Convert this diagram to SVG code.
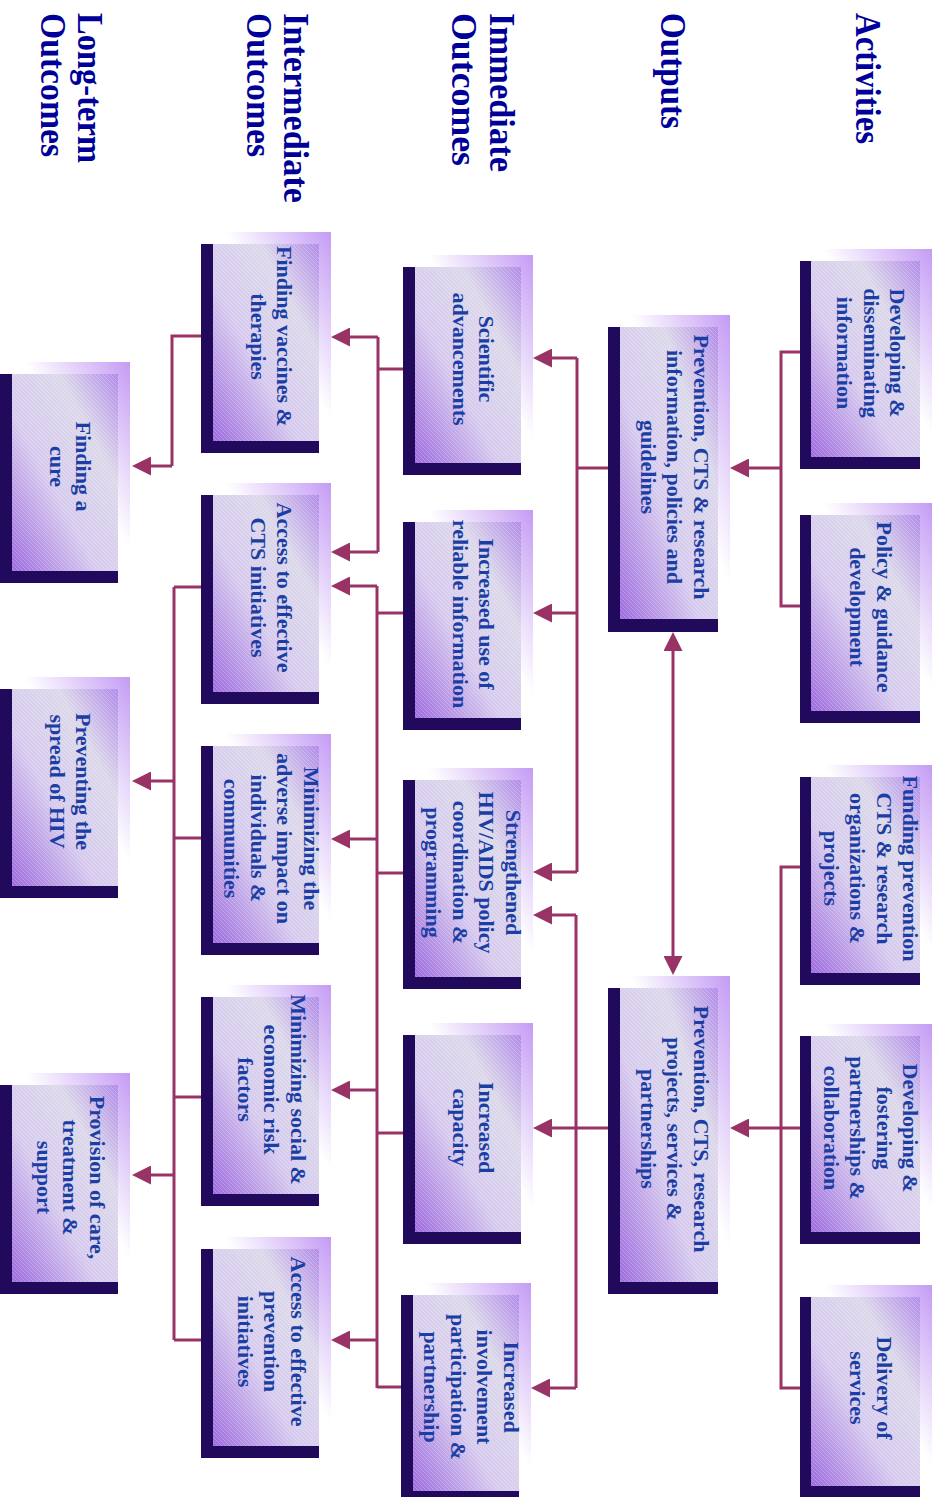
<svg xmlns="http://www.w3.org/2000/svg" width="937" height="1497" viewBox="0 0 937 1497">
<defs>
<style>
.glow{fill:url(#glowGrad)}
.navy{fill:#210a5c}
.main{fill:url(#mainGrad)}
.hatch{fill:url(#hatch)}
.t{font-family:"Liberation Serif","Times New Roman",serif;font-weight:bold;font-size:22px;fill:#1b3ea4;text-anchor:middle}
.h{font-family:"Liberation Serif","Times New Roman",serif;font-weight:bold;font-size:35px;fill:#000099}
.c{fill:none;stroke:#993366;stroke-width:3}
.a{fill:none;stroke:#993366;stroke-width:3;marker-end:url(#ah)}
.b{fill:none;stroke:#993366;stroke-width:3;marker-end:url(#ah);marker-start:url(#ah)}
</style>
<linearGradient id="mainGrad" x1="1" y1="0" x2="0" y2="1">
<stop offset="0" stop-color="#b18be8"/>
<stop offset="0.28" stop-color="#dcd8ea"/>
<stop offset="0.6" stop-color="#d6caee"/>
<stop offset="1" stop-color="#9d6ade"/>
</linearGradient>
<linearGradient id="glowGrad" x1="1" y1="0" x2="0" y2="1">
<stop offset="0" stop-color="#c49bf4"/>
<stop offset="0.45" stop-color="#ffffff"/>
</linearGradient>
<pattern id="hatch" width="4" height="4" patternUnits="userSpaceOnUse">
<path d="M0,0 L4,4" stroke="#ffffff" stroke-opacity="0.3" stroke-width="0.8"/>
</pattern>
<marker id="ah" markerUnits="userSpaceOnUse" markerWidth="19" markerHeight="19" viewBox="0 0 19 19" refX="0" refY="9.5" orient="auto-start-reverse">
<path d="M0,0 L19,9.5 L0,19 Z" fill="#993366"/>
</marker>
</defs>
<rect width="937" height="1497" fill="#ffffff"/>

<g id="headers">
<text class="h" transform="translate(856,13) rotate(90)" textLength="131" lengthAdjust="spacingAndGlyphs">Activities</text>
<text class="h" transform="translate(661,13) rotate(90)" textLength="116" lengthAdjust="spacingAndGlyphs">Outputs</text>
<text class="h" transform="translate(490,13) rotate(90)"><tspan x="0" y="0" textLength="159" lengthAdjust="spacingAndGlyphs">Immediate</tspan><tspan x="0" y="38" textLength="153" lengthAdjust="spacingAndGlyphs">Outcomes</tspan></text>
<text class="h" transform="translate(284,13) rotate(90)"><tspan x="0" y="0" textLength="190" lengthAdjust="spacingAndGlyphs">Intermediate</tspan><tspan x="0" y="37" textLength="144" lengthAdjust="spacingAndGlyphs">Outcomes</tspan></text>
<text class="h" transform="translate(78,13) rotate(90)"><tspan x="0" y="0" textLength="150" lengthAdjust="spacingAndGlyphs">Long-term</tspan><tspan x="0" y="37" textLength="144" lengthAdjust="spacingAndGlyphs">Outcomes</tspan></text>
</g>

<g id="connectors">
<path class="c" d="M800,352 H781 V606 H800"/>
<path class="a" d="M781,468 H749"/>
<path class="c" d="M800,867 H781 V1388 H800"/>
<path class="a" d="M800,1128 H749"/>
<path class="b" d="M673,651 V956"/>
<path class="c" d="M608,468 H577"/>
<path class="c" d="M577,358 V872"/>
<path class="a" d="M577,358 H552"/>
<path class="a" d="M577,613 H552"/>
<path class="a" d="M577,872 H552"/>
<path class="c" d="M608,1128 H576"/>
<path class="c" d="M576,915 V1388"/>
<path class="a" d="M576,915 H552"/>
<path class="a" d="M576,1128 H552"/>
<path class="a" d="M576,1388 H550"/>
<path class="c" d="M403,369 H378"/>
<path class="c" d="M378,337 V552"/>
<path class="a" d="M378,337 H350"/>
<path class="a" d="M378,552 H350"/>
<path class="c" d="M403,613 H377 M403,873 H377 M403,1133 H377 M401,1387 H377"/>
<path class="c" d="M377,586 V1388"/>
<path class="a" d="M377,586 H350"/>
<path class="a" d="M377,839 H350"/>
<path class="a" d="M377,1090 H350"/>
<path class="a" d="M377,1340 H350"/>
<path class="c" d="M201,336 H172 V466"/>
<path class="a" d="M172,466 H151"/>
<path class="c" d="M201,587 H174 M201,838 H174 M201,1097 H174 M201,1340 H174"/>
<path class="c" d="M174,587 V1340"/>
<path class="a" d="M174,781 H151"/>
<path class="a" d="M174,1175 H151"/>
</g>

<g id="a1"><rect class="glow" x="811" y="249" width="121" height="208"/><rect class="navy" x="800" y="261" width="120" height="208"/><rect class="main" x="811" y="261" width="109" height="196"/><rect class="hatch" x="811" y="261" width="109" height="196"/>
<text class="t" transform="translate(890,353) rotate(90)"><tspan x="0" y="0">Developing &amp;</tspan><tspan x="0" y="26.5">disseminating</tspan><tspan x="0" y="53">information</tspan></text></g>
<g id="a2"><rect class="glow" x="811" y="503" width="121" height="208"/><rect class="navy" x="800" y="515" width="120" height="208"/><rect class="main" x="811" y="515" width="109" height="196"/><rect class="hatch" x="811" y="515" width="109" height="196"/>
<text class="t" transform="translate(876.75,607) rotate(90)"><tspan x="0" y="0">Policy &amp; guidance</tspan><tspan x="0" y="26.5">development</tspan></text></g>
<g id="a3"><rect class="glow" x="811" y="765" width="121" height="208"/><rect class="navy" x="800" y="777" width="120" height="208"/><rect class="main" x="811" y="777" width="109" height="196"/><rect class="hatch" x="811" y="777" width="109" height="196"/>
<text class="t" transform="translate(903.25,868.5) rotate(90)"><tspan x="0" y="0">Funding prevention</tspan><tspan x="0" y="26.5">CTS &amp; research</tspan><tspan x="0" y="53">organizations &amp;</tspan><tspan x="0" y="79.5">projects</tspan></text></g>
<g id="a4"><rect class="glow" x="811" y="1024" width="121" height="208"/><rect class="navy" x="800" y="1036" width="120" height="208"/><rect class="main" x="811" y="1036" width="109" height="196"/><rect class="hatch" x="811" y="1036" width="109" height="196"/>
<text class="t" transform="translate(903.25,1128) rotate(90)"><tspan x="0" y="0">Developing &amp;</tspan><tspan x="0" y="26.5">fostering</tspan><tspan x="0" y="53">partnerships &amp;</tspan><tspan x="0" y="79.5">collaboration</tspan></text></g>
<g id="a5"><rect class="glow" x="811" y="1285" width="121" height="201"/><rect class="navy" x="800" y="1297" width="120" height="201"/><rect class="main" x="811" y="1297" width="109" height="189"/><rect class="hatch" x="811" y="1297" width="109" height="189"/>
<text class="t" transform="translate(876.75,1388) rotate(90)"><tspan x="0" y="0">Delivery of</tspan><tspan x="0" y="26.5">services</tspan></text></g>

<g id="o1"><rect class="glow" x="620" y="315" width="110" height="304"/><rect class="navy" x="608" y="327" width="110" height="305"/><rect class="main" x="620" y="327" width="98" height="292"/><rect class="hatch" x="620" y="327" width="98" height="292"/>
<text class="t" transform="translate(693.5,467) rotate(90)"><tspan x="0" y="0">Prevention, CTS &amp; research</tspan><tspan x="0" y="26.5">information, policies and</tspan><tspan x="0" y="53">guidelines</tspan></text></g>
<g id="o2"><rect class="glow" x="620" y="976" width="110" height="306"/><rect class="navy" x="608" y="988" width="110" height="306"/><rect class="main" x="620" y="988" width="98" height="294"/><rect class="hatch" x="620" y="988" width="98" height="294"/>
<text class="t" transform="translate(693.5,1129) rotate(90)"><tspan x="0" y="0">Prevention, CTS, research</tspan><tspan x="0" y="26.5">projects, services &amp;</tspan><tspan x="0" y="53">partnerships</tspan></text></g>

<g id="i1"><rect class="glow" x="415" y="255" width="118" height="208"/><rect class="navy" x="403" y="267" width="118" height="208"/><rect class="main" x="415" y="267" width="106" height="196"/><rect class="hatch" x="415" y="267" width="106" height="196"/>
<text class="t" transform="translate(479.25,359) rotate(90)"><tspan x="0" y="0">Scientific</tspan><tspan x="0" y="26.5">advancements</tspan></text></g>
<g id="i2"><rect class="glow" x="415" y="510" width="118" height="208"/><rect class="navy" x="403" y="522" width="118" height="208"/><rect class="main" x="415" y="522" width="106" height="196"/><rect class="hatch" x="415" y="522" width="106" height="196"/>
<text class="t" transform="translate(479.25,614) rotate(90)"><tspan x="0" y="0">Increased use of</tspan><tspan x="0" y="26.5">reliable information</tspan></text></g>
<g id="i3"><rect class="glow" x="415" y="768" width="118" height="209"/><rect class="navy" x="403" y="780" width="118" height="209"/><rect class="main" x="415" y="780" width="106" height="197"/><rect class="hatch" x="415" y="780" width="106" height="197"/>
<text class="t" transform="translate(505.75,872.5) rotate(90)"><tspan x="0" y="0">Strengthened</tspan><tspan x="0" y="26.5">HIV/AIDS policy</tspan><tspan x="0" y="53">coordination &amp;</tspan><tspan x="0" y="79.5">programming</tspan></text></g>
<g id="i4"><rect class="glow" x="415" y="1023" width="118" height="209"/><rect class="navy" x="403" y="1035" width="118" height="209"/><rect class="main" x="415" y="1035" width="106" height="197"/><rect class="hatch" x="415" y="1035" width="106" height="197"/>
<text class="t" transform="translate(479.25,1127.5) rotate(90)"><tspan x="0" y="0">Increased</tspan><tspan x="0" y="26.5">capacity</tspan></text></g>
<g id="i5"><rect class="glow" x="413" y="1283" width="118" height="208"/><rect class="navy" x="401" y="1295" width="118" height="208"/><rect class="main" x="413" y="1295" width="106" height="196"/><rect class="hatch" x="413" y="1295" width="106" height="196"/>
<text class="t" transform="translate(503.75,1387) rotate(90)"><tspan x="0" y="0">Increased</tspan><tspan x="0" y="26.5">involvement</tspan><tspan x="0" y="53">participation &amp;</tspan><tspan x="0" y="79.5">partnership</tspan></text></g>

<g id="m1"><rect class="glow" x="213" y="232" width="118" height="209"/><rect class="navy" x="201" y="244" width="118" height="209"/><rect class="main" x="213" y="244" width="106" height="197"/><rect class="hatch" x="213" y="244" width="106" height="197"/>
<text class="t" transform="translate(277.25,336.5) rotate(90)"><tspan x="0" y="0">Finding vaccines &amp;</tspan><tspan x="0" y="26.5">therapies</tspan></text></g>
<g id="m2"><rect class="glow" x="213" y="483" width="118" height="209"/><rect class="navy" x="201" y="495" width="118" height="209"/><rect class="main" x="213" y="495" width="106" height="197"/><rect class="hatch" x="213" y="495" width="106" height="197"/>
<text class="t" transform="translate(277.25,587.5) rotate(90)"><tspan x="0" y="0">Access to effective</tspan><tspan x="0" y="26.5">CTS initiatives</tspan></text></g>
<g id="m3"><rect class="glow" x="213" y="734" width="118" height="209"/><rect class="navy" x="201" y="746" width="118" height="209"/><rect class="main" x="213" y="746" width="106" height="197"/><rect class="hatch" x="213" y="746" width="106" height="197"/>
<text class="t" transform="translate(303.75,838.5) rotate(90)"><tspan x="0" y="0">Minimizing the</tspan><tspan x="0" y="26.5">adverse impact on</tspan><tspan x="0" y="53">individuals &amp;</tspan><tspan x="0" y="79.5">communities</tspan></text></g>
<g id="m4"><rect class="glow" x="213" y="985" width="118" height="209"/><rect class="navy" x="201" y="997" width="118" height="209"/><rect class="main" x="213" y="997" width="106" height="197"/><rect class="hatch" x="213" y="997" width="106" height="197"/>
<text class="t" transform="translate(290.5,1089.5) rotate(90)"><tspan x="0" y="0">Minimizing social &amp;</tspan><tspan x="0" y="26.5">economic risk</tspan><tspan x="0" y="53">factors</tspan></text></g>
<g id="m5"><rect class="glow" x="213" y="1237" width="118" height="209"/><rect class="navy" x="201" y="1249" width="118" height="209"/><rect class="main" x="213" y="1249" width="106" height="197"/><rect class="hatch" x="213" y="1249" width="106" height="197"/>
<text class="t" transform="translate(290.5,1341.5) rotate(90)"><tspan x="0" y="0">Access to effective</tspan><tspan x="0" y="26.5">prevention</tspan><tspan x="0" y="53">initiatives</tspan></text></g>

<g id="l1"><rect class="glow" x="12" y="362" width="118" height="209"/><rect class="navy" x="0" y="374" width="118" height="209"/><rect class="main" x="12" y="374" width="106" height="197"/><rect class="hatch" x="12" y="374" width="106" height="197"/>
<text class="t" transform="translate(76.25,466.5) rotate(90)"><tspan x="0" y="0">Finding a</tspan><tspan x="0" y="26.5">cure</tspan></text></g>
<g id="l2"><rect class="glow" x="12" y="677" width="118" height="209"/><rect class="navy" x="0" y="689" width="118" height="209"/><rect class="main" x="12" y="689" width="106" height="197"/><rect class="hatch" x="12" y="689" width="106" height="197"/>
<text class="t" transform="translate(76.25,781.5) rotate(90)"><tspan x="0" y="0">Preventing the</tspan><tspan x="0" y="26.5">spread of HIV</tspan></text></g>
<g id="l3"><rect class="glow" x="12" y="1073" width="118" height="209"/><rect class="navy" x="0" y="1085" width="118" height="209"/><rect class="main" x="12" y="1085" width="106" height="197"/><rect class="hatch" x="12" y="1085" width="106" height="197"/>
<text class="t" transform="translate(89.5,1177.5) rotate(90)"><tspan x="0" y="0">Provision of care,</tspan><tspan x="0" y="26.5">treatment &amp;</tspan><tspan x="0" y="53">support</tspan></text></g>
</svg>
